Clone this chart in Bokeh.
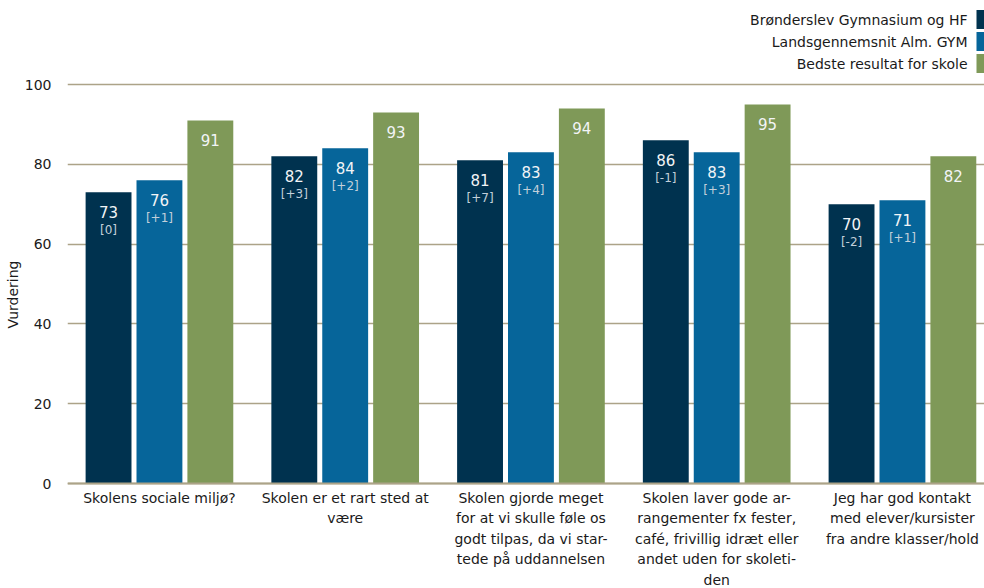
from bokeh.plotting import figure
from bokeh.models import FixedTicker, Range1d, ColumnDataSource, Span
from bokeh.core.properties import value
from bokeh.embed import file_html
from bokeh.resources import INLINE

categories = [
    "Skolens sociale miljø?",
    "Skolen er et rart sted at\nvære",
    "Skolen gjorde meget\nfor at vi skulle føle os\ngodt tilpas, da vi star-\ntede på uddannelsen",
    "Skolen laver gode ar-\nrangementer fx fester,\ncafé, frivillig idræt eller\nandet uden for skoleti-\nden",
    "Jeg har god kontakt\nmed elever/kursister\nfra andre klasser/hold",
]
series_names = ["Brønderslev Gymnasium og HF", "Landsgennemsnit Alm. GYM", "Bedste resultat for skole"]
school = [73, 82, 81, 86, 70]
national = [76, 84, 83, 83, 71]
best = [91, 93, 94, 95, 82]
school_diff = ["[0]", "[+3]", "[+7]", "[-1]", "[-2]"]
national_diff = ["[+1]", "[+2]", "[+4]", "[+3]", "[+1]"]
y_ticks = [0, 20, 40, 60, 80, 100]

colors = ["#00324f", "#06659a", "#7f9958"]
FONT = "DejaVu Sans"
GRID = "#aca388"
TXT = "#1a1a1a"

# frame geometry (pixels)
W, H = 984, 588
LEFT = 67
FRAME_W = W - LEFT
PX_Y = 3.99          # pixels per rating unit
PX_X = 185.75        # pixels per category
y0 = -(H - 483) / PX_Y
y1 = 100 + 84 / PX_Y
x0 = -0.495
x1 = x0 + FRAME_W / PX_X

p = figure(width=W, height=H, output_backend="svg", toolbar_location=None,
           x_range=Range1d(x0, x1), y_range=Range1d(y0, y1),
           min_border_left=LEFT, min_border_top=0, min_border_right=0, min_border_bottom=0)
p.outline_line_color = None
p.background_fill_color = "white"
p.xgrid.visible = False
p.ygrid.ticker = FixedTicker(ticks=y_ticks)
p.ygrid.grid_line_color = GRID
p.ygrid.grid_line_width = 1.5
p.xaxis.visible = False

# y axis
p.yaxis.ticker = FixedTicker(ticks=y_ticks)
p.yaxis.axis_line_color = None
p.yaxis.major_tick_line_color = None
p.yaxis.minor_tick_line_color = None
p.yaxis.major_label_text_font = FONT
p.yaxis.major_label_text_font_size = "14px"
p.yaxis.major_label_text_color = TXT
p.yaxis.major_label_standoff = 10
p.yaxis.axis_label = "Vurdering"
p.yaxis.axis_label_text_font = FONT
p.yaxis.axis_label_text_font_size = "14px"
p.yaxis.axis_label_text_font_style = "normal"
p.yaxis.axis_label_text_color = TXT
p.yaxis.axis_label_standoff = 1

# baseline (category axis line)
p.add_layout(Span(location=0, dimension="width", line_color=GRID, line_width=2))

xs = list(range(len(categories)))
offsets = [-0.274, 0.0, 0.274]
bar_w = 0.247
series = [school, national, best]
diffs = [school_diff, national_diff, None]

for k in range(3):
    xpos = [x + offsets[k] for x in xs]
    src = ColumnDataSource(dict(x=xpos, top=series[k], lab=[str(v) for v in series[k]]))
    p.vbar(x="x", top="top", width=bar_w, bottom=0, source=src,
           fill_color=colors[k], line_color=None)
    p.text(x="x", y="top", text="lab", source=src, text_align="center",
           text_baseline="middle", y_offset=20, text_color="#f2f4f6",
           text_font=value(FONT), text_font_size="15px")
    if diffs[k] is not None:
        src2 = ColumnDataSource(dict(x=xpos, y=series[k], lab=diffs[k]))
        p.text(x="x", y="y", text="lab", source=src2, text_align="center",
               text_baseline="middle", y_offset=38, text_color="#c3d0da",
               text_font=value(FONT), text_font_size="12px")

# category labels under the baseline
cat_src = ColumnDataSource(dict(x=xs, y=[0] * len(xs), lab=categories))
p.text(x="x", y="y", text="lab", source=cat_src, text_align="center",
       text_baseline="top", y_offset=6, text_color=TXT, text_line_height=1.29,
       text_font=value(FONT), text_font_size="14px")

# legend (top right, swatch to the right of the label)
for i, name in enumerate(series_names):
    cy = y1 - (19 + 22 * i) / PX_Y
    p.text(x=[x1 - 17 / PX_X], y=[cy], text=[name], text_align="right",
           text_baseline="middle", text_color=TXT,
           text_font=value(FONT), text_font_size="14px")
    p.quad(left=[x1 - 8 / PX_X], right=[x1], top=[cy + 9.5 / PX_Y], bottom=[cy - 9.5 / PX_Y],
           fill_color=colors[i], line_color=None)

open("out.html", "w").write(file_html(p, INLINE))
